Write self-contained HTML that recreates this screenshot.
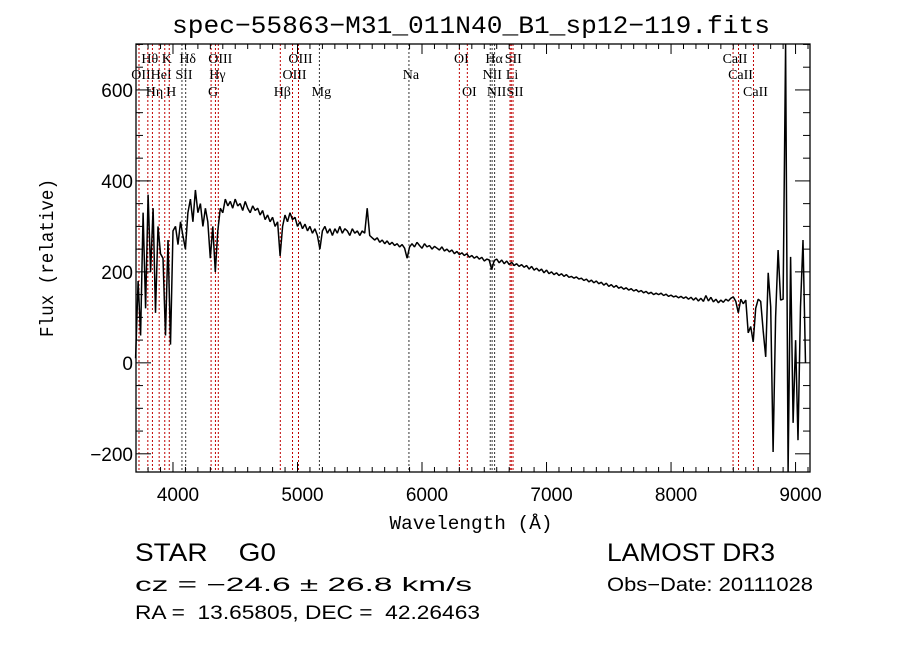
<!DOCTYPE html>
<html><head><meta charset="utf-8"><style>
html,body{margin:0;padding:0;background:#fff;}
svg{display:block;}
text{white-space:pre;}
</style></head><body>
<svg id="chart" width="900" height="649" viewBox="0 0 900 649" xmlns="http://www.w3.org/2000/svg">
<rect width="900" height="649" fill="#fff"/>
<text x="471" y="33" text-anchor="middle" font-family="Liberation Mono, monospace" font-size="25" textLength="598" lengthAdjust="spacingAndGlyphs">spec−55863−M31_011N40_B1_sp12−119.fits</text>
<g id="lines"></g>
<g id="spec"></g>
<g id="axes"></g>
<text x="471" y="529" text-anchor="middle" font-family="Liberation Mono, monospace" font-size="19" textLength="163" lengthAdjust="spacingAndGlyphs">Wavelength (Å)</text>
<text transform="translate(53,258) rotate(-90)" text-anchor="middle" font-family="Liberation Mono, monospace" font-size="19" textLength="158" lengthAdjust="spacingAndGlyphs">Flux (relative)</text>
<g font-family="Liberation Sans, sans-serif" fill="#000">
<text x="135" y="561" font-size="25" textLength="141" lengthAdjust="spacingAndGlyphs">STAR    G0</text>
<text x="607" y="561" font-size="25" textLength="168" lengthAdjust="spacingAndGlyphs">LAMOST DR3</text>
<text x="135" y="591" font-size="19" textLength="337" lengthAdjust="spacingAndGlyphs">cz = −24.6 ± 26.8 km/s</text>
<text x="607" y="591" font-size="19" textLength="206" lengthAdjust="spacingAndGlyphs">Obs−Date: 20111028</text>
<text x="135" y="619" font-size="19" textLength="345" lengthAdjust="spacingAndGlyphs">RA =  13.65805, DEC =  42.26463</text>
</g>
</svg>
<script>
const wlStart = 3700;
const wlStep = 20;
const flux = [
  10,180,60,330,120,370,200,340,110,300,      // 3700
  240,230,60,270,40,290,300,260,310,280,      // 3900
  250,330,360,310,380,330,350,300,340,310,    // 4100
  230,300,200,290,340,330,360,345,355,340,    // 4300
  360,345,350,335,355,340,330,345,335,340,    // 4500
  325,335,315,325,310,320,300,310,235,300,    // 4700
  325,310,330,315,320,300,310,295,305,290,    // 4900
  300,285,295,280,250,290,300,285,295,280,    // 5100
  295,285,300,285,295,290,280,295,285,290,    // 5300
  280,290,285,340,280,275,270,275,265,270,    // 5500
  262,268,260,265,258,262,255,260,252,230,    // 5700
  255,262,255,265,258,252,262,255,258,250,    // 5900
  256,252,248,255,246,250,244,248,240,245,    // 6100
  238,242,236,240,232,236,230,234,228,232,    // 6300
  224,228,226,205,225,228,220,226,218,224,    // 6500
  216,221,214,218,212,216,210,214,206,212,    // 6700
  204,208,202,206,198,204,196,200,194,198,    // 6900
  192,196,190,194,188,190,186,189,184,186,    // 7100
  181,184,178,182,176,180,174,177,171,175,    // 7300
  168,172,166,170,164,167,162,165,160,163,    // 7500
  158,161,156,159,154,157,152,155,150,153,    // 7700
  150,153,148,151,146,149,145,147,143,146,    // 7900
  142,145,140,144,138,143,136,142,135,148,    // 8100
  136,144,134,140,132,138,133,140,136,142,    // 8300
  145,135,110,140,130,138,66,80,46,120,       // 8500
  140,135,70,13,198,123,-196,100,248,138,     // 8700
  140,700,-240,233,-132,50,-170,123,270,0     // 8900
];
const lineWl = [3727,3798,3835,3889,3934,3970,4072,4102,4306,4341,4364,4862,4960,5008,5176,5895,6300,6364,6548,6563,6583,6707,6717,6731,8498,8542,8662];
const lineLabel = ["OII","Hθ","Hη","HeI","K","H","SII","Hδ","G","Hγ","OIII","Hβ","OIII","OIII","Mg","Na","OI","OI","NII","Hα","NII","Li","SII","SII","CaII","CaII","CaII"];
const lineRow = [2,1,3,2,1,3,2,1,3,2,1,3,2,1,3,2,1,3,2,1,3,2,1,3,1,2,3];
const lineDark = [0,0,0,0,0,0,1,1,0,0,0,0,0,0,1,1,0,0,1,1,1,0,0,0,0,0,0];
const xTicks = [4000,5000,6000,7000,8000,9000];
const yTicks = [-200,0,200,400,600];

const L=136,R=810,T=44,B=472;
const xMin=3703,xMax=9116,yMin=-240,yMax=701;
const X=w=>L+(w-xMin)/(xMax-xMin)*(R-L);
const Y=f=>B-(f-yMin)/(yMax-yMin)*(B-T);
const NS="http://www.w3.org/2000/svg";
function mk(tag,attrs,parent){const e=document.createElementNS(NS,tag);for(const k in attrs)e.setAttribute(k,attrs[k]);parent.appendChild(e);return e;}

const gl=document.getElementById('lines');
const rowY=[0,63,79,96];
lineWl.forEach((w,i)=>{
  const ln=mk('line',{x1:X(w),x2:X(w),y1:T,y2:B,stroke:lineDark[i]?'#333':'#c00000','stroke-width':1,'stroke-dasharray':'2,2'},gl);
  
  
  const t=mk('text',{x:X(w)+2,y:rowY[lineRow[i]],'text-anchor':'middle','font-family':'Liberation Serif, serif','font-size':14},gl);
  t.textContent=lineLabel[i];
  
  
});

const gs=document.getElementById('spec');
const pts=flux.map((f,i)=>X(wlStart+i*wlStep).toFixed(1)+','+Math.max(T,Math.min(B,Y(f))).toFixed(1)).join(' ');
const pl=mk('polyline',{points:pts,fill:'none',stroke:'#000','stroke-width':1.5,'stroke-linejoin':'bevel'},gs);



const ga=document.getElementById('axes');
const fr=mk('rect',{x:L,y:T,width:R-L,height:B-T,fill:'none',stroke:'#000','stroke-width':1.3},ga);


for(let w=3800;w<=9100;w+=100){
  const maj=w%1000===0, len=maj?10:5;
  mk('line',{x1:X(w),x2:X(w),y1:B,y2:B-len,stroke:'#000'},ga);
  mk('line',{x1:X(w),x2:X(w),y1:T,y2:T+len,stroke:'#000'},ga);
}
xTicks.forEach(w=>{
  const t=mk('text',{x:X(w)+5,y:B+29,'text-anchor':'middle','font-family':'Liberation Sans, sans-serif','font-size':19},ga);
  t.textContent=w;
  
  
});
for(let f=-200;f<=700;f+=50){
  const maj=f%200===0, len=maj?15:7;
  mk('line',{x1:L,x2:L+len,y1:Y(f),y2:Y(f),stroke:'#000'},ga);
  mk('line',{x1:R,x2:R-len,y1:Y(f),y2:Y(f),stroke:'#000'},ga);
}
yTicks.forEach(f=>{
  const t=mk('text',{x:L-3,y:Y(f)+7,'text-anchor':'end','font-family':'Liberation Sans, sans-serif','font-size':19},ga);
  t.textContent=f<0?'−'+(-f):f;
  
  
});
</script>
</body></html>
